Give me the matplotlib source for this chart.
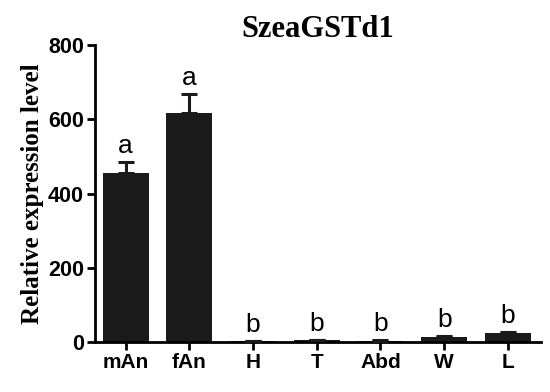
import matplotlib
matplotlib.use('Agg')
import matplotlib.pyplot as plt

tissues = ['mAn', 'fAn', 'H', 'T', 'Abd', 'W', 'L']
expression = [455, 618, 2, 4, 3, 14, 24]
errors = [30, 50, 1, 1, 1, 2, 3]
letters = ['a', 'a', 'b', 'b', 'b', 'b', 'b']

fig = plt.figure(figsize=(5.5, 3.92), dpi=100)
ax = fig.add_axes([0.1727, 0.1276, 0.811, 0.7574])

x = range(len(tissues))
ax.bar(x, expression, width=0.72, color='#1a1a1a', zorder=2)
ax.errorbar(x, expression, yerr=[[0] * len(errors), errors], fmt='none',
            ecolor='#1a1a1a', elinewidth=2.2, capsize=6, capthick=2.2, zorder=3)
for i, (v, e, t) in enumerate(zip(expression, errors, letters)):
    ax.annotate(t, (i, v + e), xytext=(0, 3), textcoords='offset points',
                ha='center', va='bottom', fontsize=19, family='Liberation Sans')

ax.set_xlim(-0.48, 6.52)
ax.set_ylim(0, 800)
ax.set_yticks([0, 200, 400, 600, 800])
ax.set_xticks(list(x))
ax.set_xticklabels(tissues, fontweight='bold', fontsize=15, family='Liberation Sans')
for lab in ax.get_yticklabels():
    lab.set_fontweight('bold')
    lab.set_fontsize(15.5)
    lab.set_family('Liberation Sans')
ax.tick_params(width=2, length=6, direction='out', pad=2)

for s in ['top', 'right']:
    ax.spines[s].set_visible(False)
for s in ['left', 'bottom']:
    ax.spines[s].set_linewidth(2)

ax.set_ylabel('Relative expression level', family='Liberation Serif',
              fontweight='bold', fontsize=18, labelpad=3)
ax.set_title('SzeaGSTd1', family='Liberation Serif', fontweight='bold',
             fontsize=22, pad=6)

fig.savefig('out.png', dpi=100)
